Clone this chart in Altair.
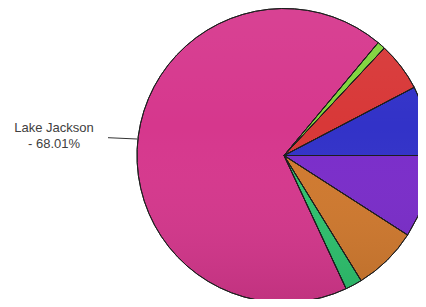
import math
import altair as alt
import pandas as pd

# Data (percent of total)
categories = ["Category A", "Category B", "Category C", "Lake Jackson",
              "Category E", "Category F", "Category G"]
values = [9.10, 7.11, 1.85, 68.01, 0.89, 5.37, 7.67]
colors = ["#7a2cca", "#d0792e", "#2ec26e", "#d6378d", "#7fd43c", "#d83838", "#3232c8"]
order = list(range(len(categories)))

df = pd.DataFrame({"category": categories, "value": values, "ord": order})

CX, CY, R = 276, 147.5, 147
start = math.pi / 2

base = alt.Chart(df)

theta_scale = alt.Scale(range=[start, start + 2 * math.pi])

slices = base.mark_arc(stroke="#1e1e1e", strokeWidth=1, radius=R).encode(
    theta=alt.Theta("value:Q", stack=True, scale=theta_scale),
    order=alt.Order("ord:Q"),
    color=alt.Color("category:N", scale=alt.Scale(domain=categories, range=colors), legend=None),
    x=alt.value(CX),
    y=alt.value(CY),
)

shade = alt.Chart(pd.DataFrame({"k": [0]})).mark_arc(
    radius=R,
    fill=alt.Gradient(
        gradient="linear",
        stops=[
            alt.GradientStop(color="rgba(255,255,255,0.06)", offset=0),
            alt.GradientStop(color="rgba(255,255,255,0.0)", offset=0.4),
            alt.GradientStop(color="rgba(0,0,0,0.10)", offset=1),
        ],
        x1=0, y1=0, x2=0, y2=1,
    ),
    theta=0,
    theta2=2 * math.pi,
).encode(x=alt.value(CX), y=alt.value(CY))

outlines = base.mark_arc(stroke="#1e1e1e", strokeWidth=1, fillOpacity=0, radius=R).encode(
    theta=alt.Theta("value:Q", stack=True, scale=theta_scale),
    order=alt.Order("ord:Q"),
    x=alt.value(CX),
    y=alt.value(CY),
)

leader = alt.Chart(pd.DataFrame({"k": [0]})).mark_rule(color="#333333", strokeWidth=1).encode(
    x=alt.value(100), x2=alt.value(129), y=alt.value(129.7), y2=alt.value(131)
)

label = base.transform_filter(
    alt.datum.category == "Lake Jackson"
).transform_calculate(
    txt=alt.datum.category + "\n- " + alt.expr.format(alt.datum.value, ".2f") + "%"
).mark_text(
    font="Liberation Sans", fontSize=13, color="#404040", align="center",
    baseline="alphabetic", lineBreak="\n", lineHeight=16
).encode(
    text="txt:N", x=alt.value(46), y=alt.value(124)
)

chart = alt.layer(slices, shade, outlines, leader, label).properties(
    width=410, height=291, padding=0, autosize="none"
).configure_view(stroke=None)

chart.save("out.html", embed_options={"renderer": "svg", "actions": False})
